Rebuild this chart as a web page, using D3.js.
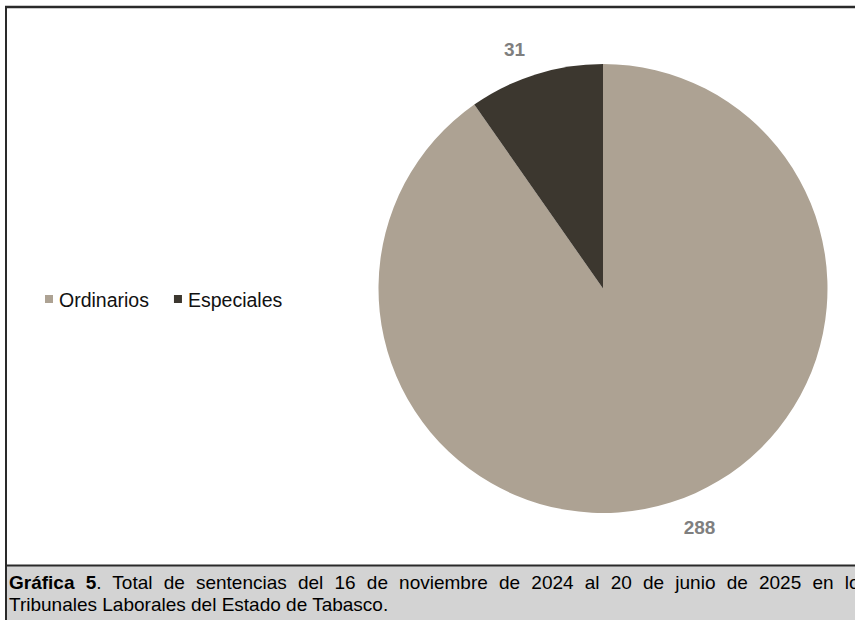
<!DOCTYPE html>
<html>
<head>
<meta charset="utf-8">
<script src="https://cdn.jsdelivr.net/npm/d3@7"></script>
<style>
  html, body { margin: 0; padding: 0; background: #fff; }
  svg { display: block; }
</style>
</head>
<body>
<svg id="chart" width="855" height="620"></svg>
<script>
const categories = ["Ordinarios", "Especiales"];
const values = [288, 31];
const colors = ["#ada293", "#3c372f"];
const captionBold = "Gráfica 5";
const captionLine1 = ". Total de sentencias del 16 de noviembre de 2024 al 20 de junio de 2025 en los";
const captionLine2 = "Tribunales Laborales del Estado de Tabasco.";

const svg = d3.select("#chart");
const W = 855, H = 620;
const FONT = "Liberation Sans, Arial, sans-serif";

// caption background
svg.append("rect").attr("x", 6).attr("y", 566).attr("width", W - 6).attr("height", H - 566).attr("fill", "#d3d3d3");
// frame lines
svg.append("line").attr("x1", 5).attr("x2", W).attr("y1", 7).attr("y2", 7).attr("stroke", "#2a2a2a").attr("stroke-width", 2.5);
svg.append("line").attr("x1", 6).attr("x2", 6).attr("y1", 6).attr("y2", H).attr("stroke", "#2a2a2a").attr("stroke-width", 2);
svg.append("line").attr("x1", 5).attr("x2", W).attr("y1", 565.5).attr("y2", 565.5).attr("stroke", "#2a2a2a").attr("stroke-width", 2);

// pie
const cx = 603, cy = 288.5, R = 224.5;
const pie = d3.pie().sort(null).value(d => d);
const arcs = pie(values);
const arc = d3.arc().innerRadius(0).outerRadius(R);
const g = svg.append("g").attr("transform", `translate(${cx},${cy})`);
g.selectAll("path").data(arcs).enter().append("path")
  .attr("d", arc)
  .attr("fill", (d, i) => colors[i]);

// data labels (outside end)
g.selectAll("text.lbl").data(arcs).enter().append("text")
  .attr("class", "lbl")
  .attr("x", d => {
    const a = (d.startAngle + d.endAngle) / 2;
    return Math.sin(a) * R + Math.sign(Math.sin(a)) * 25 + 4;
  })
  .attr("y", d => {
    const a = (d.startAngle + d.endAngle) / 2;
    return -Math.cos(a) * R - Math.sign(Math.cos(a)) * 25 + 6.5;
  })
  .attr("text-anchor", "middle")
  .attr("font-family", FONT)
  .attr("font-weight", "bold")
  .attr("font-size", 19)
  .attr("fill", "#7f7f7f")
  .text(d => d.data);

// legend
const legend = svg.append("g");
let lx = 45;
categories.forEach((c, i) => {
  legend.append("rect").attr("x", lx).attr("y", 295).attr("width", 8).attr("height", 8).attr("fill", colors[i]);
  const t = legend.append("text").attr("x", lx + 14).attr("y", 307)
    .attr("font-family", FONT)
    .attr("font-size", 19.5).attr("fill", "#111").text(c);
  lx = lx + 14 + t.node().getComputedTextLength() + 25;
});

// caption
const cap = svg.append("g").attr("font-family", FONT).attr("font-size", 19).attr("fill", "#000");
const t1 = cap.append("text").attr("x", 9).attr("y", 589);
t1.append("tspan").attr("font-weight", "bold").text(captionBold);
t1.append("tspan").text(captionLine1);
// justify first line
const target = 860;
const wlen = t1.node().getComputedTextLength();
const spaces = (captionBold + captionLine1).split(" ").length - 1;
t1.attr("word-spacing", Math.max(0, (target - wlen) / spaces));
cap.append("text").attr("x", 9).attr("y", 611).text(captionLine2);
</script>
</body>
</html>
